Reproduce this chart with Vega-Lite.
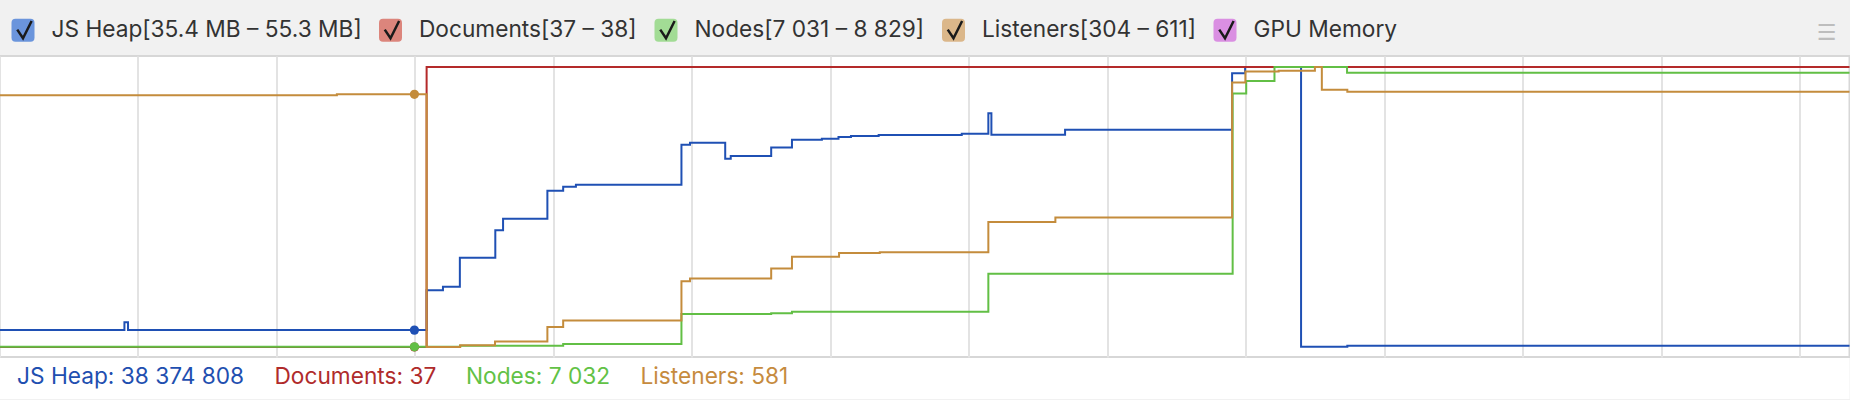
{
  "$schema": "https://vega.github.io/schema/vega-lite/v6.json",
  "background": "#f1f1f1",
  "padding": {"left": -5.5, "right": 0, "top": 0, "bottom": 3},
  "autosize": {"type": "pad"},
  "spacing": 0,
  "config": {"view": {"stroke": null}, "font": "Inter"},
  "resolve": {
    "scale": {"color": "independent", "shape": "independent"},
    "legend": {"color": "independent", "shape": "independent"}
  },
  "datasets": {
    "header": [
      {"series": "JS Heap", "label": "JS Heap[35.4 MB – 55.3 MB]"},
      {"series": "Documents", "label": "Documents[37 – 38]"},
      {"series": "Nodes", "label": "Nodes[7 031 – 8 829]"},
      {"series": "Listeners", "label": "Listeners[304 – 611]"},
      {"series": "GPU Memory", "label": "GPU Memory"}
    ],
    "footer": [
      {"series": "JS Heap", "label": "JS Heap: 38 374 808"},
      {"series": "Documents", "label": "Documents: 37"},
      {"series": "Nodes", "label": "Nodes: 7 032"},
      {"series": "Listeners", "label": "Listeners: 581"}
    ],
    "markers": [
      {"t": 1.498, "v": 36.6, "series": "JS Heap"},
      {"t": 1.498, "v": 37, "series": "Documents"},
      {"t": 1.498, "v": 7032, "series": "Nodes"},
      {"t": 1.498, "v": 581, "series": "Listeners"}
    ],
    "heap": [
      {"t": 0, "v": 36.6, "series": "JS Heap"},
      {"t": 0.451, "v": 37.16, "series": "JS Heap"},
      {"t": 0.464, "v": 36.6, "series": "JS Heap"},
      {"t": 1.542, "v": 39.43, "series": "JS Heap"},
      {"t": 1.601, "v": 39.69, "series": "JS Heap"},
      {"t": 1.662, "v": 41.75, "series": "JS Heap"},
      {"t": 1.79, "v": 43.69, "series": "JS Heap"},
      {"t": 1.818, "v": 44.52, "series": "JS Heap"},
      {"t": 1.978, "v": 46.51, "series": "JS Heap"},
      {"t": 2.035, "v": 46.79, "series": "JS Heap"},
      {"t": 2.081, "v": 46.93, "series": "JS Heap"},
      {"t": 2.462, "v": 49.78, "series": "JS Heap"},
      {"t": 2.493, "v": 49.92, "series": "JS Heap"},
      {"t": 2.62, "v": 48.78, "series": "JS Heap"},
      {"t": 2.64, "v": 48.97, "series": "JS Heap"},
      {"t": 2.786, "v": 49.57, "series": "JS Heap"},
      {"t": 2.861, "v": 50.13, "series": "JS Heap"},
      {"t": 2.969, "v": 50.2, "series": "JS Heap"},
      {"t": 3.029, "v": 50.33, "series": "JS Heap"},
      {"t": 3.074, "v": 50.4, "series": "JS Heap"},
      {"t": 3.174, "v": 50.47, "series": "JS Heap"},
      {"t": 3.474, "v": 50.56, "series": "JS Heap"},
      {"t": 3.57, "v": 52.01, "series": "JS Heap"},
      {"t": 3.581, "v": 50.49, "series": "JS Heap"},
      {"t": 3.847, "v": 50.84, "series": "JS Heap"},
      {"t": 4.45, "v": 54.85, "series": "JS Heap"},
      {"t": 4.497, "v": 55.3, "series": "JS Heap"},
      {"t": 4.699, "v": 35.42, "series": "JS Heap"},
      {"t": 4.866, "v": 35.49, "series": "JS Heap"},
      {"t": 6.679, "v": 35.49, "series": "JS Heap"}
    ],
    "docs": [
      {"t": 0, "v": 37, "series": "Documents"},
      {"t": 1.542, "v": 38, "series": "Documents"},
      {"t": 6.679, "v": 38, "series": "Documents"}
    ],
    "nodes": [
      {"t": 0, "v": 7032, "series": "Nodes"},
      {"t": 1.663, "v": 7039, "series": "Nodes"},
      {"t": 2.035, "v": 7050, "series": "Nodes"},
      {"t": 2.462, "v": 7243, "series": "Nodes"},
      {"t": 2.786, "v": 7247, "series": "Nodes"},
      {"t": 2.861, "v": 7258, "series": "Nodes"},
      {"t": 3.57, "v": 7502, "series": "Nodes"},
      {"t": 4.452, "v": 8658, "series": "Nodes"},
      {"t": 4.501, "v": 8739, "series": "Nodes"},
      {"t": 4.603, "v": 8829, "series": "Nodes"},
      {"t": 4.865, "v": 8792, "series": "Nodes"},
      {"t": 6.679, "v": 8792, "series": "Nodes"}
    ],
    "listeners": [
      {"t": 0, "v": 580, "series": "Listeners"},
      {"t": 1.218, "v": 581, "series": "Listeners"},
      {"t": 1.542, "v": 304, "series": "Listeners"},
      {"t": 1.663, "v": 306, "series": "Listeners"},
      {"t": 1.789, "v": 310, "series": "Listeners"},
      {"t": 1.978, "v": 326, "series": "Listeners"},
      {"t": 2.035, "v": 333, "series": "Listeners"},
      {"t": 2.462, "v": 376, "series": "Listeners"},
      {"t": 2.493, "v": 379, "series": "Listeners"},
      {"t": 2.786, "v": 390, "series": "Listeners"},
      {"t": 2.861, "v": 403, "series": "Listeners"},
      {"t": 3.031, "v": 407, "series": "Listeners"},
      {"t": 3.178, "v": 408, "series": "Listeners"},
      {"t": 3.57, "v": 441, "series": "Listeners"},
      {"t": 3.812, "v": 446, "series": "Listeners"},
      {"t": 4.45, "v": 594, "series": "Listeners"},
      {"t": 4.498, "v": 606, "series": "Listeners"},
      {"t": 4.618, "v": 607, "series": "Listeners"},
      {"t": 4.749, "v": 611, "series": "Listeners"},
      {"t": 4.774, "v": 586, "series": "Listeners"},
      {"t": 4.866, "v": 584, "series": "Listeners"},
      {"t": 6.679, "v": 584, "series": "Listeners"}
    ]
  },
  "vconcat": [
    {
      "width": 1850,
      "height": 55,
      "data": {"name": "header"},
      "title": {"text": "☰", "orient": "top", "anchor": "end", "frame": "group", "offset": -44.5, "dx": -13, "fontSize": 22, "font": "DejaVu Sans", "fontWeight": "normal", "color": "#bdbdbd"},
      "mark": {"type": "point", "filled": true, "opacity": 0},
      "encoding": {
        "color": {
          "field": "label",
          "type": "nominal",
          "scale": {
            "domain": ["JS Heap[35.4 MB – 55.3 MB]", "Documents[37 – 38]", "Nodes[7 031 – 8 829]", "Listeners[304 – 611]", "GPU Memory"],
            "range": ["#6b95dc", "#dc857c", "#a2dc95", "#dbb78a", "#da8fe2"]
          },
          "legend": {
            "orient": "none", "legendX": 10.5, "legendY": 17, "direction": "horizontal", "columns": 5,
            "title": null, "padding": 0, "offset": 0,
            "symbolType": "M-1,-0.65Q-1,-1,-0.65,-1L0.65,-1Q1,-1,1,-0.65L1,0.65Q1,1,0.65,1L-0.65,1Q-1,1,-1,0.65Z",
            "symbolSize": 529, "symbolStrokeWidth": 2.5, "symbolStrokeColor": "transparent",
            "labelFont": "Inter", "labelFontSize": 22.7, "labelColor": "#333333", "labelOffset": 15.5,
            "columnPadding": 11.5, "labelLimit": 600,
            "encode": {
              "symbols": {"update": {
                "shape": {"value": "M-1,-0.65Q-1,-1,-0.65,-1L0.65,-1Q1,-1,1,-0.65L1,0.65Q1,1,0.65,1L-0.65,1Q-1,1,-1,0.65Z"},
                "size": {"value": 529},
                "stroke": {"value": "transparent"},
                "strokeWidth": {"value": 2.5},
                "opacity": {"value": 1}
              }}
            }
          }
        },
        "shape": {
          "field": "label",
          "type": "nominal",
          "sort": null,
          "scale": {"range": ["M-1,-1M1,1M-0.5,-0.05L0,0.7L0.75,-0.8"]},
          "legend": {
            "orient": "none", "legendX": 10.5, "legendY": 17, "direction": "horizontal", "columns": 5,
            "title": null, "padding": 0, "offset": 0,
            "symbolSize": 529, "symbolStrokeWidth": 2.5, "symbolStrokeColor": "#1a1a1a", "symbolFillColor": "transparent",
            "labelFont": "Inter", "labelFontSize": 22.7, "labelColor": "transparent", "labelOffset": 15.5,
            "columnPadding": 11.5, "labelLimit": 600,
            "encode": {
              "symbols": {"update": {
                "shape": {"value": "M-1,-1M1,1M-0.5,-0.05L0,0.7L0.75,-0.8"},
                "size": {"value": 529},
                "fill": {"value": "transparent"},
                "stroke": {"value": "#1a1a1a"},
                "strokeWidth": {"value": 2.5},
                "opacity": {"value": 1}
              }},
              "labels": {"update": {"opacity": {"value": 0}}}
            }
          }
        }
      }
    },
    {
      "width": 1850,
      "height": 301,
      "view": {"fill": "white", "stroke": "#d7d7d7", "strokeWidth": 2},
      "encoding": {
        "x": {
          "field": "t",
          "type": "quantitative",
          "scale": {"domain": [0, 6.679], "nice": false, "zero": false},
          "axis": {"values": [0, 0.5, 1, 1.5, 2, 2.5, 3, 3.5, 4, 4.5, 5, 5.5, 6, 6.5], "grid": true, "gridColor": "#e3e3e3", "gridWidth": 2, "labels": false, "ticks": false, "domain": false, "title": null}
        },
        "color": {
          "field": "series",
          "type": "nominal",
          "scale": {"domain": ["JS Heap", "Documents", "Nodes", "Listeners"], "range": ["#1f50b4", "#b42a2a", "#62bf45", "#c48c3c"]},
          "legend": null
        }
      },
      "resolve": {"scale": {"y": "independent"}, "axis": {"y": "independent"}},
      "layer": [
        {
          "encoding": {"y": {"field": "v", "type": "quantitative", "scale": {"domain": [34.6893, 56.0818], "nice": false, "zero": false}, "axis": null}},
          "layer": [
            {"data": {"name": "heap"}, "mark": {"type": "line", "interpolate": "step-after", "strokeWidth": 2}},
            {"data": {"name": "markers"}, "transform": [{"filter": "datum.series === 'JS Heap'"}], "mark": {"type": "circle", "size": 85, "opacity": 1}}
          ]
        },
        {
          "encoding": {"y": {"field": "v", "type": "quantitative", "scale": {"domain": [36.9643, 38.0393], "nice": false, "zero": false}, "axis": null}},
          "layer": [
            {"data": {"name": "docs"}, "mark": {"type": "line", "interpolate": "step-after", "strokeWidth": 2}},
            {"data": {"name": "markers"}, "transform": [{"filter": "datum.series === 'Documents'"}], "mark": {"type": "circle", "size": 85, "opacity": 1}}
          ]
        },
        {
          "encoding": {"y": {"field": "v", "type": "quantitative", "scale": {"domain": [6966.79, 8899.59], "nice": false, "zero": false}, "axis": null}},
          "layer": [
            {"data": {"name": "nodes"}, "mark": {"type": "line", "interpolate": "step-after", "strokeWidth": 2}},
            {"data": {"name": "markers"}, "transform": [{"filter": "datum.series === 'Nodes'"}], "mark": {"type": "circle", "size": 85, "opacity": 1}}
          ]
        },
        {
          "encoding": {"y": {"field": "v", "type": "quantitative", "scale": {"domain": [293.036, 623.061], "nice": false, "zero": false}, "axis": null}},
          "layer": [
            {"data": {"name": "listeners"}, "mark": {"type": "line", "interpolate": "step-after", "strokeWidth": 2}},
            {"data": {"name": "markers"}, "transform": [{"filter": "datum.series === 'Listeners'"}], "mark": {"type": "circle", "size": 85, "opacity": 1}}
          ]
        }
      ]
    },
    {
      "width": 1850,
      "height": 41,
      "view": {"fill": "white"},
      "data": {"name": "footer"},
      "mark": {"type": "text", "text": ""},
      "encoding": {
        "color": {
          "field": "label",
          "type": "nominal",
          "sort": null,
          "scale": {"range": ["#1f4fb0", "#b02b2b", "#62c246", "#c68b3e"]},
          "legend": {
            "orient": "none", "legendX": 17.5, "legendY": 7, "direction": "horizontal", "columns": 4,
            "title": null, "padding": 0, "offset": 0,
            "symbolSize": 0, "symbolStrokeWidth": 0, "symbolOpacity": 0,
            "labelFont": "Inter", "labelFontSize": 22.7, "labelOffset": -22.7, "columnPadding": 29.5, "labelLimit": 600,
            "encode": {
              "symbols": {"update": {"opacity": {"value": 0}}},
              "labels": {"update": {"fill": {"signal": "indexof(datum.value, 'JS Heap') === 0 ? '#1f4fb0' : indexof(datum.value, 'Documents') === 0 ? '#b02b2b' : indexof(datum.value, 'Nodes') === 0 ? '#62c246' : '#c68b3e'"}}}
            }
          }
        }
      }
    }
  ]
}
